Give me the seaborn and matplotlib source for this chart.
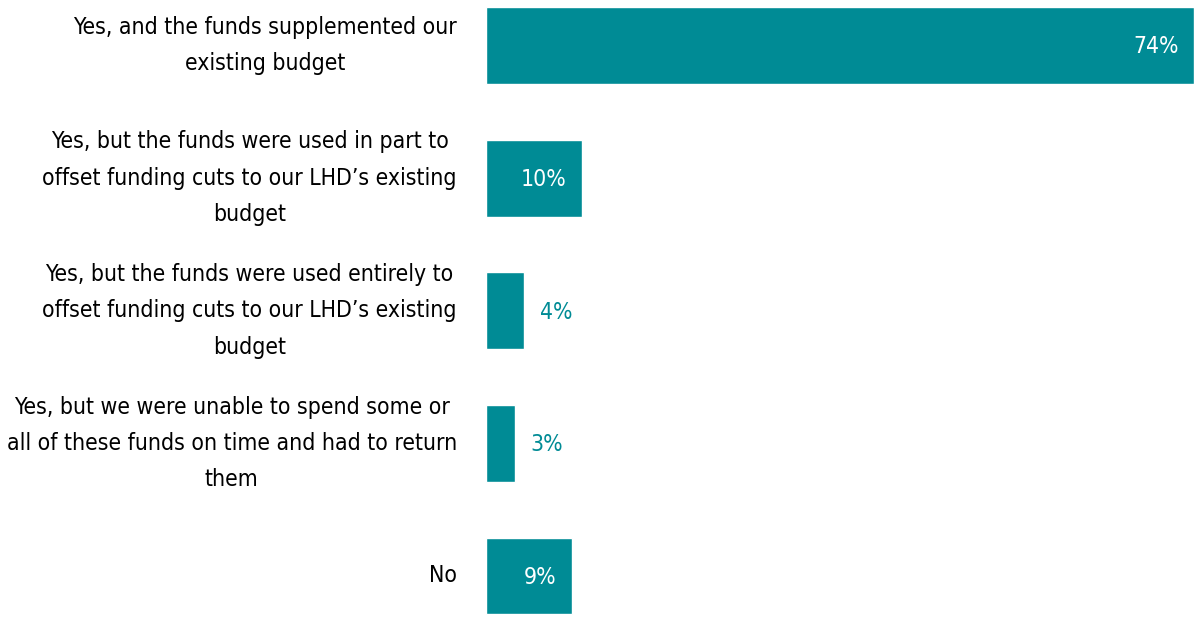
import matplotlib
matplotlib.use("Agg")
import matplotlib.pyplot as plt
import seaborn as sns
import pandas as pd

categories = [
    "Yes, and the funds supplemented our\nexisting budget",
    "Yes, but the funds were used in part to\noffset funding cuts to our LHD\u2019s existing\nbudget",
    "Yes, but the funds were used entirely to\noffset funding cuts to our LHD\u2019s existing\nbudget",
    "Yes, but we were unable to spend some or\nall of these funds on time and had to return\nthem",
    "No",
]
values = [74, 10, 4, 3, 9]
value_labels = ["74%", "10%", "4%", "3%", "9%"]

TEAL = "#008B95"

sns.set_theme(style="white")
plt.rcParams["font.family"] = ["DejaVu Sans"]
plt.rcParams["font.stretch"] = "condensed"

df = pd.DataFrame({"category": categories, "value": values})

fig = plt.figure(figsize=(11.94, 6.2), dpi=100)
ax = fig.add_axes([486 / 1194, 0.0, 1 - 486 / 1194, 1.0])

sns.barplot(data=df, x="value", y="category", orient="h", color=TEAL,
            saturation=1, width=0.58, ax=ax)

ax.set_xlim(0, 74)
ax.set_ylim(4 + (620 - 576) / 132.5, -45.5 / 132.5)
ax.set_xlabel("")
ax.set_ylabel("")
ax.set_xticks([])
for s in ax.spines.values():
    s.set_visible(False)

ax.tick_params(axis="y", length=0, pad=21, labelsize=16.5)
for lab in ax.get_yticklabels():
    lab.set_multialignment("center")
    lab.set_linespacing(1.74)
    lab.set_color("black")
    lab.set_fontstretch("condensed")
    lab.set_verticalalignment("center")

for i, (v, t) in enumerate(zip(values, value_labels)):
    if v >= 8:
        ax.annotate(t, (v, i), xytext=(-11, -1), textcoords="offset points",
                    ha="right", va="center", color="white", fontsize=16.5,
                    fontstretch="condensed")
    else:
        ax.annotate(t, (v, i), xytext=(11, -1), textcoords="offset points",
                    ha="left", va="center", color=TEAL, fontsize=16.5,
                    fontstretch="condensed")

fig.savefig("out.png", dpi=100)
